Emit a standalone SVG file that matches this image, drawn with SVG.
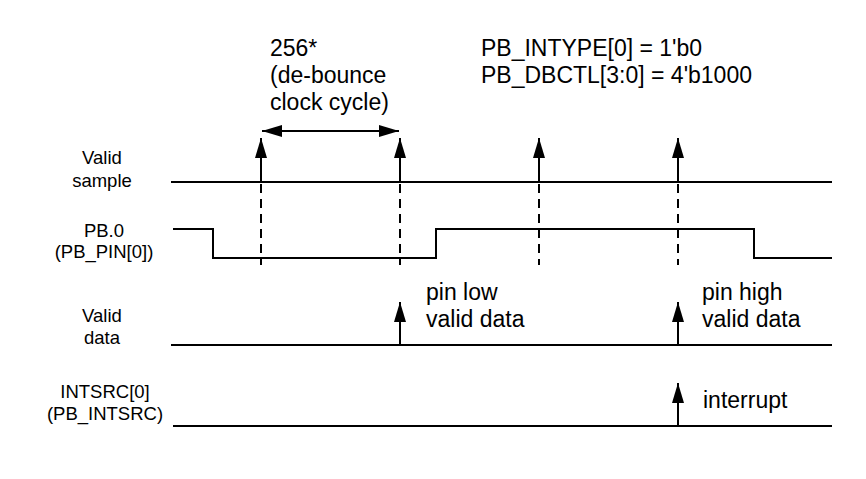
<svg xmlns="http://www.w3.org/2000/svg" width="866" height="479" viewBox="0 0 866 479">
  <defs>
    <marker id="head" viewBox="0 0 20 12" refX="20" refY="6" markerWidth="20" markerHeight="12" markerUnits="userSpaceOnUse" orient="auto-start-reverse">
      <path d="M0,0 L20,6 L0,12 Z" fill="#000"/>
    </marker>
    <style>
      .sig { fill: none; stroke: #000; stroke-width: 2; }
      .dash { fill: none; stroke: #000; stroke-width: 2; stroke-dasharray: 9 6; }
      .arr { fill: none; stroke: #000; stroke-width: 2; marker-end: url(#head); }
      .lbl { font-family: "Liberation Sans", Arial, sans-serif; font-size: 18.5px; fill: #000; text-anchor: middle; }
      .note { font-family: "Liberation Sans", Arial, sans-serif; font-size: 23px; fill: #000; }
    </style>
  </defs>
  <rect width="866" height="479" fill="#fff"/>

  <!-- signal names -->
  <g id="label-valid-sample">
    <text class="lbl" x="102" y="164">Valid</text>
    <text class="lbl" x="102" y="187">sample</text>
  </g>
  <g id="label-pb0">
    <text class="lbl" x="104" y="237">PB.0</text>
    <text class="lbl" x="104" y="258">(PB_PIN[0])</text>
  </g>
  <g id="label-valid-data">
    <text class="lbl" x="102" y="322">Valid</text>
    <text class="lbl" x="102" y="344">data</text>
  </g>
  <g id="label-intsrc">
    <text class="lbl" x="105" y="398">INTSRC[0]</text>
    <text class="lbl" x="105" y="420">(PB_INTSRC)</text>
  </g>

  <!-- annotations -->
  <g id="note-period">
    <text class="note" x="270" y="56">256*</text>
    <text class="note" x="270" y="83">(de-bounce</text>
    <text class="note" x="270" y="110">clock cycle)</text>
  </g>
  <g id="note-config">
    <text class="note" x="481" y="56">PB_INTYPE[0] = 1'b0</text>
    <text class="note" x="481" y="83">PB_DBCTL[3:0] = 4'b1000</text>
  </g>
  <g id="note-low">
    <text class="note" x="426" y="300">pin low</text>
    <text class="note" x="426" y="327">valid data</text>
  </g>
  <g id="note-high">
    <text class="note" x="702" y="300">pin high</text>
    <text class="note" x="702" y="327">valid data</text>
  </g>
  <g id="note-interrupt">
    <text class="note" x="703" y="408">interrupt</text>
  </g>

  <!-- waveforms -->
  <g id="wave-valid-sample">
    <line class="sig" x1="171" y1="182" x2="832" y2="182"/>
  </g>
  <g id="wave-pb0">
    <polyline class="sig" points="173,229 213,229 213,258 436,258 436,229 754,229 754,258 832,258"/>
  </g>
  <g id="wave-valid-data">
    <line class="sig" x1="171" y1="345" x2="832" y2="345"/>
  </g>
  <g id="wave-intsrc">
    <line class="sig" x1="173" y1="426" x2="832" y2="426"/>
  </g>

  <!-- sample strobes, markers and timing arrows -->
  <g id="connectors">
    <line class="arr" x1="261" y1="182" x2="261" y2="138"/>
    <line class="arr" x1="400" y1="182" x2="400" y2="138"/>
    <line class="arr" x1="539" y1="182" x2="539" y2="138"/>
    <line class="arr" x1="678" y1="182" x2="678" y2="138"/>

    <line class="dash" x1="261" y1="184" x2="261" y2="265"/>
    <line class="dash" x1="400" y1="184" x2="400" y2="265"/>
    <line class="dash" x1="539" y1="184" x2="539" y2="265"/>
    <line class="dash" x1="678" y1="184" x2="678" y2="265"/>

    <line class="sig" x1="262" y1="131" x2="399" y2="131" marker-start="url(#head)" marker-end="url(#head)"/>

    <line class="arr" x1="400" y1="345" x2="400" y2="302"/>
    <line class="arr" x1="678" y1="345" x2="678" y2="302"/>
    <line class="arr" x1="678" y1="426" x2="678" y2="383"/>
  </g>
</svg>
